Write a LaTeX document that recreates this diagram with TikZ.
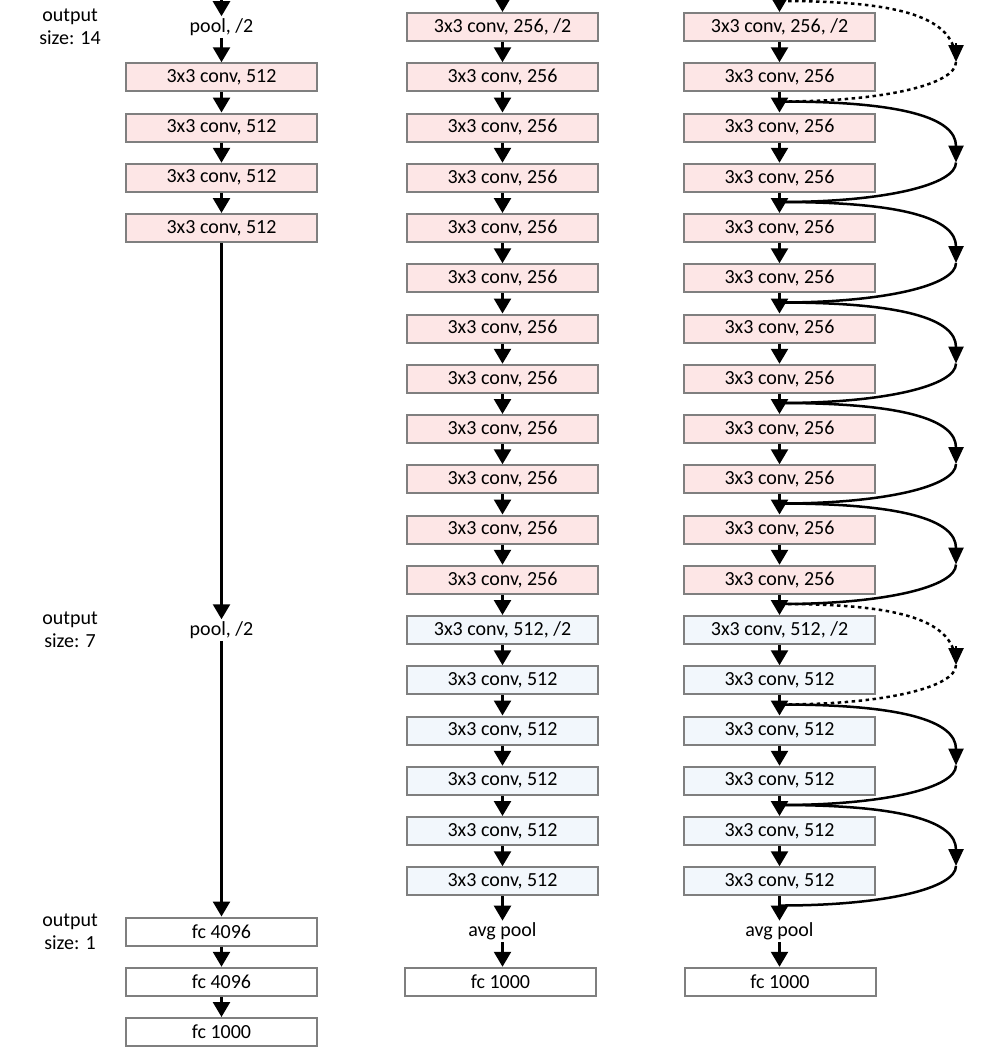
\documentclass[tikz,border=0pt]{standalone}
\usepackage{fontspec}
\setmainfont{Carlito}
\usetikzlibrary{arrows.meta}
\definecolor{pinkfill}{HTML}{FDE6E6}
\definecolor{bluefill}{HTML}{F2F7FC}
\definecolor{edgegray}{HTML}{7F7F7F}
\tikzset{
  layer/.style={draw=edgegray, line width=2pt, minimum width=191pt, minimum height=28pt, inner sep=0pt, font=\fontsize{20}{22}\selectfont},
  pinkbox/.style={layer, fill=pinkfill},
  bluebox/.style={layer, fill=bluefill},
  whitebox/.style={layer, fill=white},
  plain/.style={inner sep=2pt, font=\fontsize{20}{22}\selectfont},
  sizelabel/.style={align=center, font=\fontsize{20}{23}\selectfont},
  arr/.style={-{Triangle[width=17pt,length=15pt]}, line width=2.5pt},
  skiphalf/.style={line width=2.5pt},
  skipin/.style={skiphalf, -{Triangle[width=15pt,length=17pt]}},
  dashedhalf/.style={skiphalf, dash pattern=on 3.5pt off 3.5pt},
  tiponly/.style={skipin}
}
\begin{document}
\begin{tikzpicture}[x=1pt,y=-1pt]
\useasboundingbox (0,0) rectangle (1007,1055);
\def\ry#1{27+50.25*#1}
% ---------- column 1 (VGG) ----------
\coordinate (t1) at (221.5,0);
\node[plain] (a0) at (221.5,{\ry{0}}) {pool, /2};
\foreach \i in {1,...,4}{\node[pinkbox] (a\i) at (221.5,{\ry{\i}}) {3x3 conv, 512};}
\node[plain] (a12) at (221.5,{\ry{12}}) {pool, /2};
\node[whitebox] (a18) at (221.5,{\ry{18}}) {fc 4096};
\node[whitebox] (a19) at (221.5,{\ry{19}}) {fc 4096};
\node[whitebox] (a20) at (221.5,{\ry{20}}) {fc 1000};
\draw[arr] (t1) -- (a0);
\draw[arr] (a0) -- (a1);
\draw[arr] (a1) -- (a2);
\draw[arr] (a2) -- (a3);
\draw[arr] (a3) -- (a4);
\draw[arr] (a4) -- (a12);
\draw[arr] (a12) -- (a18);
\draw[arr] (a18) -- (a19);
\draw[arr] (a19) -- (a20);
% labels
\node[sizelabel] (s14) at (70,{\ry{0}}) {output\\size: 14};
\node[sizelabel] (s7) at (70,{\ry{12}}) {output\\size: 7};
\node[sizelabel] (s1) at (70,{\ry{18}}) {output\\size: 1};
% ---------- column 2 (plain) ----------
\coordinate (t2) at (502.5,0);
\node[pinkbox] (b0) at (502.5,{\ry{0}}) {3x3 conv, 256, /2};
\foreach \i in {1,...,11}{\node[pinkbox] (b\i) at (502.5,{\ry{\i}}) {3x3 conv, 256};}
\node[bluebox] (b12) at (502.5,{\ry{12}}) {3x3 conv, 512, /2};
\foreach \i in {13,...,17}{\node[bluebox] (b\i) at (502.5,{\ry{\i}}) {3x3 conv, 512};}
\node[plain] (b18) at (502.5,{\ry{18}}) {avg pool};
\node[whitebox] (b19) at (500.5,{\ry{19}}) {fc 1000};
\draw[arr] (t2) -- (b0);
\foreach \i [evaluate=\i as \j using int(\i+1)] in {0,...,17}{\draw[arr] (b\i) -- (b\j);}
\draw[arr] (b18) -- (b18 |- b19.north);
% ---------- column 3 (residual) ----------
\coordinate (t3) at (779.5,0);
\node[pinkbox] (c0) at (779.5,{\ry{0}}) {3x3 conv, 256, /2};
\foreach \i in {1,...,11}{\node[pinkbox] (c\i) at (779.5,{\ry{\i}}) {3x3 conv, 256};}
\node[bluebox] (c12) at (779.5,{\ry{12}}) {3x3 conv, 512, /2};
\foreach \i in {13,...,17}{\node[bluebox] (c\i) at (779.5,{\ry{\i}}) {3x3 conv, 512};}
\node[plain] (c18) at (779.5,{\ry{18}}) {avg pool};
\node[whitebox] (c19) at (780,{\ry{19}}) {fc 1000};
\draw[arr] (t3) -- (c0);
\foreach \i [evaluate=\i as \j using int(\i+1)] in {0,...,17}{\draw[arr] (c\i) -- (c\j);}
\draw[arr] (c18) -- (c18 |- c19.north);
% junctions and curve apexes
\foreach \k in {0,2,...,18}{\coordinate (j\k) at (781,{\ry{\k}-26});}
\foreach \k in {0,2,...,16}{\coordinate (m\k) at (956,{\ry{\k}-26+61});}
% solid skip connections
\foreach \a/\b in {2/4,4/6,6/8,8/10,10/12,14/16,16/18}{
  \draw[skipin] (j\a) .. controls +(120,0) and +(0,-45) .. (m\a);
  \draw[skiphalf] (m\a) .. controls +(0,22) and +(105,0) .. (j\b);
}
% dashed (projection) skip connections
\foreach \a/\b in {0/2,12/14}{
  \draw[dashedhalf] (j\a) .. controls +(120,0) and +(0,-45) .. (m\a);
  \draw[dashedhalf] (m\a) .. controls +(0,22) and +(105,0) .. (j\b);
  \draw[tiponly] ([yshift=19pt]m\a) -- (m\a);
}
\end{tikzpicture}
\end{document}
